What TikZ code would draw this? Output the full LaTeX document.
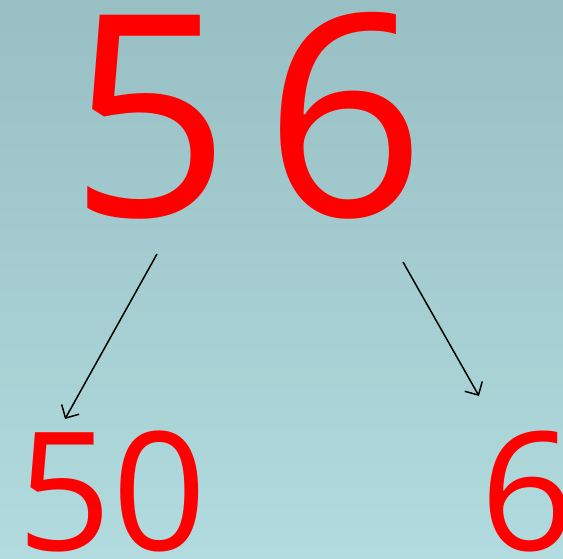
\documentclass[tikz,border=0pt]{standalone}
\usepackage{fontspec}
\setmainfont{Open Sans}
\usepackage{tikz}
\usetikzlibrary{positioning,calc,arrows.meta}
\newcommand*{\dig}[2]{\fontsize{#1}{#1}\selectfont #2}
\definecolor{bgtop}{RGB}{152,191,195}
\definecolor{bgbot}{RGB}{177,219,222}

\begin{document}
\begin{tikzpicture}[x=1pt,y=1pt,
  numtext/.style={text=red,inner sep=0pt,anchor=base},
  splitarrow/.style={line width=1.5pt,-{Straight Barb[length=10pt,width=20pt]}}]
% Background with its gradient
\shade[top color=bgtop,bottom color=bgbot] (0,0) rectangle (563,-558);
\useasboundingbox (0,0) rectangle (563,-558);
% The number on top
\node[numtext] (five) at (150,-216) {\dig{282}{5}};
\node[numtext] (six) at (345,-216) {\dig{282}{6}};
% Its two parts below
\node[numtext] (fifty) at (112,-550) {\dig{165}{50}};
\node[numtext] (sixb) at (528,-550) {\dig{165}{6}};
% Free ends of the arrows
\coordinate (s1) at (157,-254);
\coordinate (e1) at (65,-419);
\coordinate (s2) at (403,-262);
\coordinate (e2) at (479,-396);
\draw[splitarrow] (s1) -- (e1);
\draw[splitarrow] (s2) -- (e2);
\end{tikzpicture}
\end{document}
